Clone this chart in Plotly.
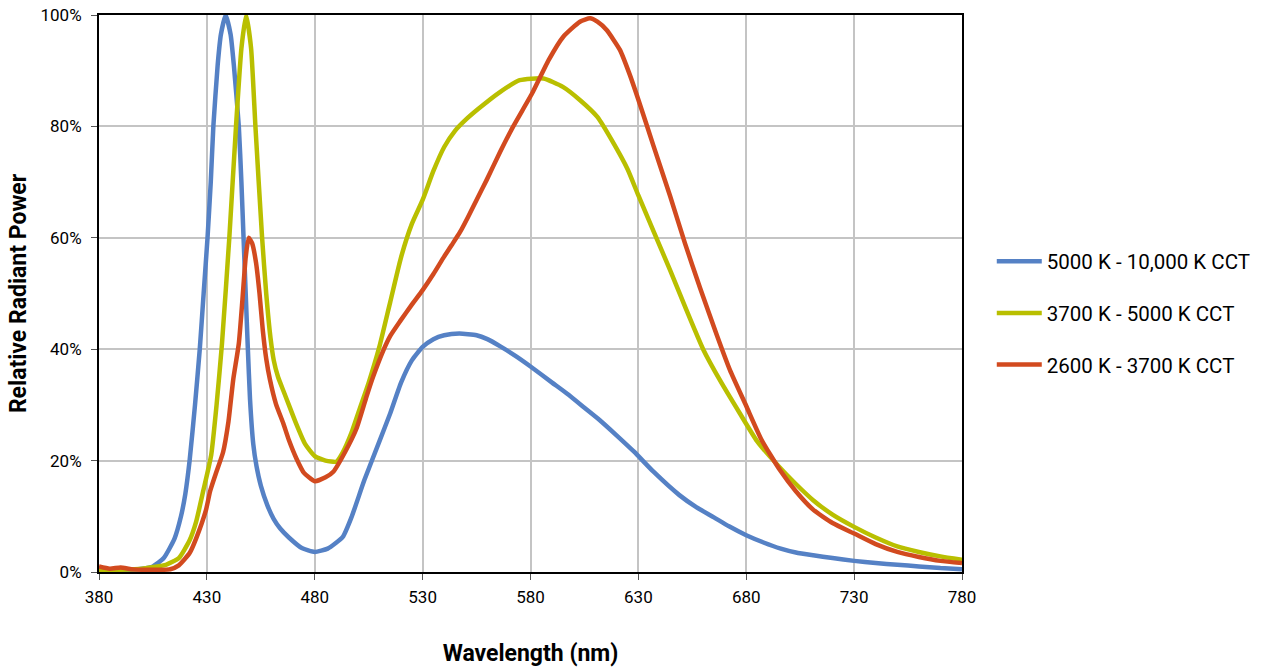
import plotly.graph_objects as go

# ---- data ----
series_names = ["5000 K - 10,000 K CCT", "3700 K - 5000 K CCT", "2600 K - 3700 K CCT"]

wl_blue = [380, 390, 400, 405, 410, 415, 418, 420, 422, 424.5, 426.7, 428.5, 430.3, 431.8, 433, 435,
           436.5, 438.7, 441, 442.5, 444.8, 446, 447, 448, 449, 450, 451.5, 453, 455, 458, 461, 464,
           468, 474, 480, 486, 493, 497, 503, 510, 515, 520, 525, 530, 535, 540, 547, 555, 560, 566,
           573, 580, 590, 597, 605, 612, 620, 628, 637, 649, 657, 665, 672, 680, 688, 696, 703, 711,
           720, 730, 740, 750, 760, 770, 780]
val_blue = [0.5, 0.4, 0.6, 1.0, 2.5, 6, 10, 14, 20, 30, 40, 50, 60, 70, 80, 91,
            96.5, 100, 96.5, 91, 80, 70, 60, 50, 40, 31, 23, 19, 15.5, 12, 9.5, 7.8,
            6.2, 4.3, 3.6, 4.2, 6.3, 9.8, 16.5, 23.5, 28.5, 34, 38, 40.4, 41.8, 42.5, 42.8, 42.5, 41.8, 40.5,
            38.8, 36.9, 34, 32, 29.5, 27.3, 24.5, 21.6, 18, 13.8, 11.6, 9.8, 8.2, 6.6, 5.3, 4.2, 3.5, 3.0,
            2.5, 2.0, 1.6, 1.3, 1.0, 0.7, 0.5]

wl_yellow = [380, 390, 400, 405, 411, 417, 422, 425, 428.4, 432, 434.5, 437, 440.4, 443.5, 446, 448.2,
             450.5, 452.5, 455.6, 457.5, 459.5, 461, 463, 465.5, 468, 471, 475.5, 480, 485, 490, 493, 497,
             501, 505, 510, 515, 520, 525, 530, 535, 540, 545, 550, 556, 566, 575, 586, 595, 603, 611,
             618, 625, 630, 637, 644.7, 652.3, 660, 668, 677, 685, 695, 703, 711, 720, 730, 740, 750,
             760, 770, 780]
val_yellow = [0.3, 0.4, 0.6, 0.9, 1.3, 2.5, 5.7, 9, 14.7, 21, 30, 41, 60, 80, 94, 100,
              94, 80, 60, 50, 42, 38, 35, 32.5, 30, 27, 23, 20.8, 20, 19.8, 21.5, 25,
              29.5, 34, 40.5, 48.5, 56.5, 62.5, 66.8, 72, 76.3, 79.2, 81.2, 83.2, 86.2, 88.3, 88.6, 87.1, 84.7, 81.7,
              77.3, 72.3, 67.6, 61.2, 54.2, 47, 40, 34.3, 28.5, 23.5, 19, 15.8, 12.9, 10.3, 8.1, 6.2, 4.6,
              3.6, 2.8, 2.2]

wl_red = [380, 385, 390, 395, 400, 405, 410, 413, 417, 422, 425, 429.5, 431.5, 434, 437.5, 440,
          442.2, 444.8, 446.5, 448, 449.4, 451, 452.8, 454.4, 455.9, 457.5, 459.2, 462, 465.4, 468,
          471.6, 475, 480, 485, 488.6, 494, 499.4, 504, 507, 511.8, 515, 519.5, 525, 530, 535, 539.6,
          543.5, 547.3, 551, 555, 559.7, 566, 572, 580.7, 588.4, 595.2, 602.9, 607.6, 611, 615.3, 621.5,
          626, 630, 637, 644.7, 651.6, 658.6, 666.3, 672.5, 680, 687, 695.6, 703, 711, 720, 730, 740,
          750, 760, 770, 780]
val_red = [1.0, 0.6, 0.8, 0.5, 0.4, 0.4, 0.4, 0.5, 1.2, 3.4, 6, 11, 14.5, 17.5, 21.5, 27,
           34.5, 41, 49, 56.5, 60, 59, 55.5, 50, 43.5, 38.3, 34.6, 30.2, 26.7, 23.7,
           20.3, 17.8, 16.3, 17, 18, 21.5, 25.8, 31.5, 35, 39.8, 42.4, 45, 48, 50.6, 53.5, 56.4,
           58.7, 61, 63.7, 66.8, 70.4, 75.5, 80, 85.9, 91.9, 96.1, 98.8, 99.4, 98.8, 97.3, 93.7,
           89.3, 84.8, 76.5, 67.5, 59, 51, 42.6, 36.2, 29.8, 23.8, 18.3, 14.5, 11.2, 8.8, 6.9, 5,
           3.6, 2.7, 2.0, 1.6]

x_ticks = [380, 430, 480, 530, 580, 630, 680, 730, 780]
y_ticks = [0, 20, 40, 60, 80, 100]
y_tick_labels = ["0%", "20%", "40%", "60%", "80%", "100%"]

colors = ["#5581C5", "#B9BF00", "#D24A1F"]

fig = go.Figure()
for i, (xs, ys) in enumerate([(wl_blue, val_blue), (wl_yellow, val_yellow), (wl_red, val_red)]):
    fig.add_trace(go.Scatter(
        x=xs, y=ys, mode="lines", name=series_names[i],
        line=dict(color=colors[i], width=4.5, shape="spline", smoothing=0.5),
        legendgroup=f"g{i}",
    ))

font_family = "Roboto, Arial, sans-serif"
fig.update_layout(
    width=1276, height=672,
    margin=dict(l=99, r=314, t=15, b=100, autoexpand=False),
    paper_bgcolor="white", plot_bgcolor="white",
    font=dict(family=font_family, size=17, color="#000000"),
    showlegend=True,
    legend=dict(x=1.0345, xanchor="left", y=0.465, yanchor="middle",
                font=dict(size=20.5, color="#000000"), tracegroupgap=22,
                itemwidth=45, bgcolor="rgba(0,0,0,0)"),
    xaxis=dict(range=[380, 780], tickvals=x_ticks, ticktext=[str(v) for v in x_ticks],
               showgrid=True, gridcolor="#C4C4C4", gridwidth=2,
               showline=True, linecolor="#000000", linewidth=2, mirror=True,
               ticks="outside", ticklen=6, tickcolor="#555555", tickwidth=1,
               tickfont=dict(size=17), ticklabelstandoff=3,
               title=dict(text="<b>Wavelength (nm)</b>", font=dict(size=23), standoff=38),
               zeroline=False),
    yaxis=dict(range=[0, 100], tickvals=y_ticks, ticktext=y_tick_labels,
               showgrid=True, gridcolor="#C4C4C4", gridwidth=2,
               showline=True, linecolor="#000000", linewidth=2, mirror=True,
               ticks="outside", ticklen=6, tickcolor="#555555", tickwidth=1,
               tickfont=dict(size=17), ticklabelstandoff=6,
               title=dict(text="<b>Relative Radiant Power</b>", font=dict(size=23), standoff=7),
               zeroline=False),
)

fig.write_html("out.html", config={"displayModeBar": False},
               post_script="document.body.style.margin='0px';")
